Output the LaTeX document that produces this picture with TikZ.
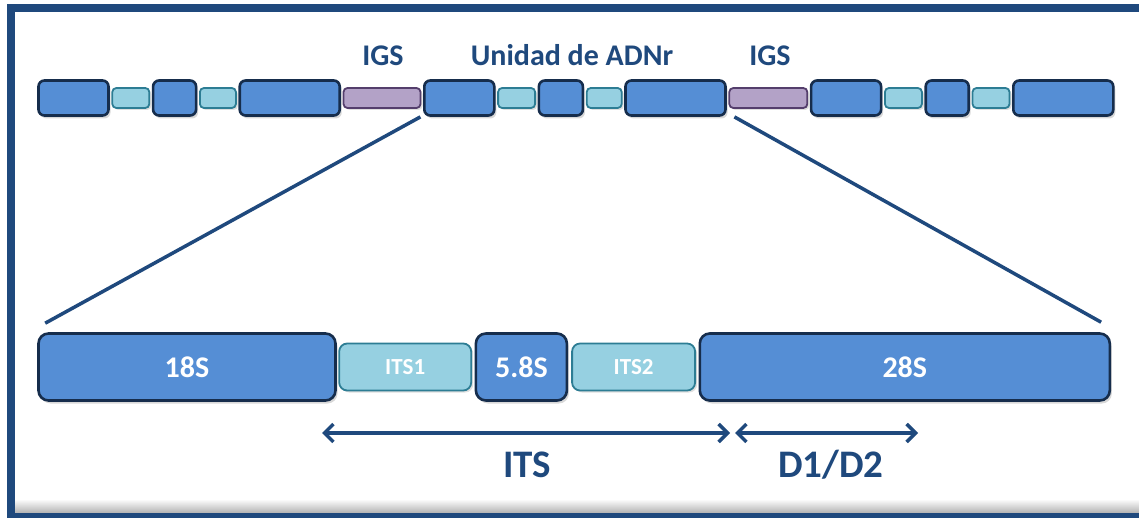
\documentclass[tikz,border=0pt]{standalone}
\usepackage{fontspec}
\setmainfont{Carlito}
\usetikzlibrary{positioning}
\usetikzlibrary{arrows.meta}
\usetikzlibrary{shadows}

\definecolor{navy}{RGB}{31,73,125}
\definecolor{exonfill}{RGB}{85,142,213}
\definecolor{exonline}{RGB}{22,45,76}
\definecolor{spacerfill}{RGB}{150,208,225}
\definecolor{spacerline}{RGB}{45,125,148}
\definecolor{igsfill}{RGB}{179,162,199}
\definecolor{igsline}{RGB}{84,62,108}

\tikzset{
	exon/.style = {draw = exonline, line width = 2.6pt, fill = exonfill, rounded corners = 6pt,
		minimum height = 35pt, inner sep = 0pt,
		drop shadow = {opacity = .3, shadow xshift = 2pt, shadow yshift = -3pt}},
	spacer/.style = {draw = spacerline, line width = 1.8pt, fill = spacerfill, rounded corners = 4pt,
		minimum height = 20pt, inner sep = 0pt,
		drop shadow = {opacity = .25, shadow xshift = 2pt, shadow yshift = -2pt}},
	igsbox/.style = {spacer, draw = igsline, fill = igsfill},
	bigexon/.style = {exon, minimum height = 67pt, rounded corners = 10pt, text = white,
		font = \fontsize{30}{30}\selectfont\bfseries},
	bigspacer/.style = {spacer, minimum height = 47pt, rounded corners = 8pt, text = white,
		font = \fontsize{23}{23}\selectfont\bfseries},
	toplbl/.style = {anchor = base, text = navy, inner sep = 0pt, font = \fontsize{30}{30}\selectfont\bfseries},
	botlbl/.style = {anchor = base, text = navy, inner sep = 0pt, font = \fontsize{39}{39}\selectfont\bfseries},
	zoomline/.style = {draw = navy, line width = 3.5pt},
	span/.style = {draw = navy, line width = 3.5pt, {Straight Barb[length = 9pt, width = 18pt]}-{Straight Barb[length = 9pt, width = 18pt]}}
}

\begin{document}
\begin{tikzpicture}[x = 1pt, y = -1pt]
	\useasboundingbox (0,0) rectangle (1139,518);
	\fill[white] (0,0) rectangle (1139,518);

	% frame
	\shade[top color = white, bottom color = black!30] (15,499) rectangle (1139,513);
	\draw[navy, line width = 8pt] (1150,8) -- (11,8) -- (11,517) -- (1150,517);

	% rDNA array
	\node[exon, minimum width = 70pt] (b1) at (73.5,98) {};
	\node[spacer, minimum width = 37pt, right = 1.6pt of b1] (s1) {};
	\node[exon, minimum width = 43pt, right = 1.6pt of s1] (b2) {};
	\node[spacer, minimum width = 36pt, right = 1.6pt of b2] (s2) {};
	\node[exon, minimum width = 100pt, right = 1.6pt of s2] (b3) {};
	\node[igsbox, minimum width = 77pt, right = 1.6pt of b3] (g1) {};
	\node[exon, minimum width = 70pt, right = 1.6pt of g1] (b4) {};
	\node[spacer, minimum width = 37pt, right = 1.6pt of b4] (s3) {};
	\node[exon, minimum width = 44pt, right = 1.6pt of s3] (b5) {};
	\node[spacer, minimum width = 35pt, right = 1.6pt of b5] (s4) {};
	\node[exon, minimum width = 100pt, right = 1.6pt of s4] (b6) {};
	\node[igsbox, minimum width = 78pt, right = 1.6pt of b6] (g2) {};
	\node[exon, minimum width = 70pt, right = 1.6pt of g2] (b7) {};
	\node[spacer, minimum width = 37pt, right = 1.6pt of b7] (s5) {};
	\node[exon, minimum width = 43pt, right = 1.6pt of s5] (b8) {};
	\node[spacer, minimum width = 37pt, right = 1.6pt of b8] (s6) {};
	\node[exon, minimum width = 100pt, right = 1.6pt of s6] (b9) {};

	\node[toplbl] (igsA) at (383,66) {IGS};
	\node[toplbl] (unit) at (572,66) {Unidad de ADNr};
	\node[toplbl] (igsB) at (770,66) {IGS};

	% one unit, enlarged
	\node[bigexon, minimum width = 297pt] (n18) at (187,367) {18S};
	\node[bigspacer, minimum width = 132pt, right = 1.5pt of n18] (its1) {ITS1};
	\node[bigexon, minimum width = 91pt, right = 2.5pt of its1] (n58) {5.8S};
	\node[bigspacer, minimum width = 123pt, right = 3pt of n58] (its2) {ITS2};
	\node[bigexon, minimum width = 410pt, right = 2.5pt of its2] (n28) {28S};

	\path ([xshift = -1pt, yshift = -8pt]g1.south east) edge[zoomline] ([xshift = 8pt, yshift = 9pt]n18.north west);
	\path ([xshift = 6pt, yshift = -8pt]g2.south west) edge[zoomline] ([xshift = -10pt, yshift = 10pt]n28.north east);

	% regions
	\coordinate (itsL) at (322,433);
	\coordinate (itsR) at (730,433);
	\coordinate (dL) at (735,433);
	\coordinate (dR) at (918,433);
	\path (itsL) edge[span] (itsR);
	\path (dL) edge[span] (dR);

	\node[botlbl] (its) at (527,477) {ITS};
	\node[botlbl] (d12) at (831,477) {D1/D2};
\end{tikzpicture}
\end{document}
